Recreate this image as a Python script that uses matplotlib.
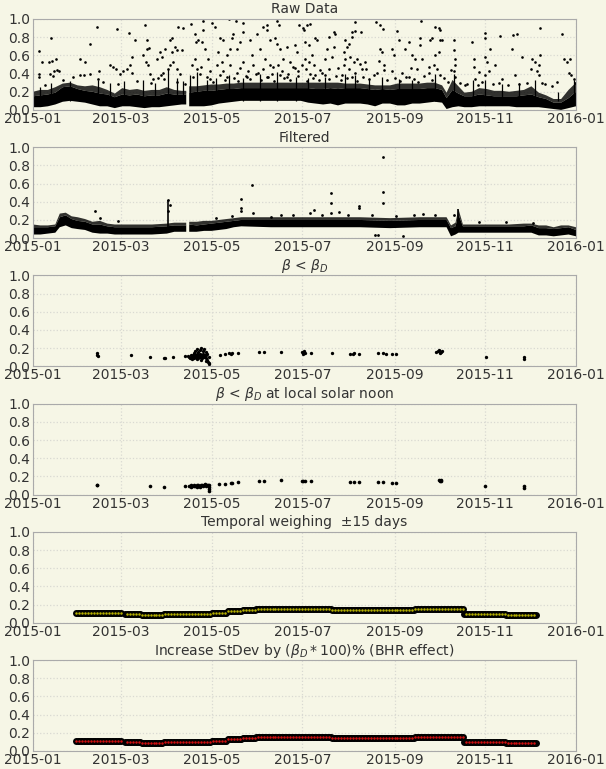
import numpy as np
import matplotlib
matplotlib.use("Agg")
import matplotlib.pyplot as plt
import matplotlib.dates as mdates

nan = np.nan

# ---- raw data: dense band (day of year, lower edge, core top, fringe top) ----
raw_band_day = [0, 5, 10, 15, 20, 25, 30, 35, 40, 45, 50, 55, 60, 65, 70, 75, 80, 85,
                90, 95, 100, 103, 104, 105, 110, 115, 120, 125, 130, 135, 140, 150, 160,
                170, 180, 185, 190, 195, 200, 205, 210, 215, 220, 225, 230, 235, 240,
                245, 250, 255, 260, 265, 270, 275, 278, 282, 286, 290, 295, 300, 305,
                310, 315, 320, 325, 330, 335, 340, 345, 350, 355, 360, 365]
raw_band_lo = [0.03, 0.03, 0.04, 0.06, 0.09, 0.10, 0.09, 0.08, 0.06, 0.04, 0.04, 0.02,
               0.04, 0.04, 0.03, 0.02, 0.03, 0.03, 0.04, 0.05, 0.06, 0.06, nan, 0.04,
               0.04, 0.04, 0.05, 0.07, 0.08, 0.09, 0.10, 0.10, 0.10, 0.10, 0.10, 0.08,
               0.07, 0.06, 0.07, 0.05, 0.07, 0.07, 0.07, 0.06, 0.04, 0.07, 0.07, 0.05,
               0.05, 0.07, 0.07, 0.08, 0.09, 0.08, 0.01, 0.03, 0.04, 0.03, 0.03, 0.04,
               0.04, 0.04, 0.04, 0.04, 0.03, 0.03, 0.03, 0.03, 0.02, 0.01, 0.00, 0.02,
               0.04]
raw_band_core = [0.15, 0.16, 0.17, 0.19, 0.25, 0.26, 0.23, 0.21, 0.20, 0.18, 0.17, 0.14,
                 0.17, 0.16, 0.17, 0.15, 0.16, 0.16, 0.18, 0.17, 0.17, 0.17, nan, 0.19,
                 0.20, 0.21, 0.21, 0.22, 0.23, 0.23, 0.24, 0.24, 0.24, 0.24, 0.24, 0.24,
                 0.23, 0.23, 0.24, 0.23, 0.24, 0.24, 0.24, 0.23, 0.22, 0.23, 0.22, 0.23,
                 0.23, 0.23, 0.23, 0.24, 0.24, 0.22, 0.13, 0.22, 0.18, 0.15, 0.15, 0.17,
                 0.16, 0.15, 0.15, 0.15, 0.15, 0.16, 0.17, 0.14, 0.12, 0.08, 0.08, 0.13,
                 0.20]
raw_band_hi = [0.20, 0.22, 0.22, 0.25, 0.29, 0.30, 0.27, 0.26, 0.27, 0.25, 0.22, 0.18,
               0.24, 0.22, 0.23, 0.21, 0.22, 0.22, 0.25, 0.22, 0.21, 0.21, nan, 0.26,
               0.26, 0.27, 0.28, 0.28, 0.29, 0.29, 0.30, 0.30, 0.30, 0.30, 0.30, 0.30,
               0.30, 0.30, 0.30, 0.30, 0.29, 0.29, 0.29, 0.28, 0.27, 0.27, 0.27, 0.29,
               0.29, 0.29, 0.29, 0.30, 0.30, 0.27, 0.19, 0.33, 0.26, 0.19, 0.20, 0.24,
               0.23, 0.21, 0.21, 0.20, 0.21, 0.22, 0.26, 0.19, 0.16, 0.12, 0.12, 0.22,
               0.30]

# ---- raw data: scattered points above the band ----
raw_pt_day = [4.3, 5.8, 4.3, 4.3, 11.9, 11.0, 12.5, 11.4, 13.2, 15.5, 14.1, 15.9, 17.7,
              31.6, 34.9, 31.6, 34.3, 38.3, 38.3, 43.2, 44.6, 43.9, 56.7, 51.7, 53.5,
              55.8, 58.5, 60.7, 62.9, 65.2, 66.3, 64.7, 68.5, 66.3, 75.3, 76.4, 76.8,
              78.2, 74.1, 75.9, 77.5, 78.6, 80.9, 83.1, 85.3, 86.5, 88.7, 85.8, 87.1,
              88.0, 92.1, 93.2, 95.4, 93.2, 96.5, 99.9, 97.7, 100.6, 92.1, 94.3, 96.5,
              98.8, 90.5, 106.0, 108.9, 111.1, 109.5, 113.3, 114.5, 114.0, 120.1,
              108.9, 110.0, 107.7, 115.6, 117.8, 106.6, 112.2, 122.3, 125.7, 127.9,
              124.5, 126.8, 130.1, 131.9, 133.5, 134.6, 132.4, 136.4, 136.9, 139.1,
              141.3, 141.3, 145.8, 146.9, 150.3, 152.5, 154.8, 157.0, 157.5, 159.3,
              162.6, 163.7, 165.5, 163.7, 166.0, 170.5, 172.7, 176.1, 177.2, 179.0,
              181.7, 123.4, 127.9, 132.4, 136.9, 141.3, 144.7, 148.1, 151.4, 154.8,
              155.9, 159.3, 160.4, 164.9, 167.1, 168.2, 171.6, 175.0, 178.3, 180.5,
              118.9, 116.7, 130.1, 143.6, 157.0, 170.5,
              181.9, 184.2, 186.4, 182.6, 185.3, 189.8, 190.9, 183.0, 185.3, 188.6,
              187.5, 183.5, 186.4, 189.8, 198.7, 202.1, 203.2, 202.1, 197.6, 201.0,
              196.5, 198.7, 194.2, 209.9, 212.2, 211.0, 208.8, 214.4, 216.6, 214.4,
              216.2, 220.7, 209.9, 213.3, 215.5, 217.8, 220.0, 223.4, 208.8, 212.2,
              216.6, 221.1, 207.7, 214.4, 230.5, 233.4, 235.0, 233.4, 234.6, 232.3,
              235.7, 231.2, 241.3, 242.4, 241.3, 244.6, 245.8, 250.2, 252.5, 254.7,
              257.0, 260.3, 260.3, 261.0, 261.4, 258.1, 248.0, 252.5, 267.0, 268.2,
              270.0, 272.6, 273.8, 273.8, 274.9, 272.6, 270.4, 269.3, 271.5, 273.8,
              265.9, 282.7, 282.7, 283.4, 283.8, 282.7, 283.8, 290.6, 295.0, 296.2,
              296.2, 297.3, 303.6, 304.0, 304.0, 305.1, 306.2, 303.6, 307.4, 310.7,
              313.0, 314.1, 322.4, 325.3, 321.9, 328.6, 335.4, 337.6, 339.8, 341.0,
              341.0, 338.7, 339.8, 342.1, 355.5, 356.6, 358.9, 360.0, 361.1, 361.8,
              363.4, 364.0, 324.2, 315.2,
              8, 20, 27, 47, 57, 70, 79, 84, 97, 102, 119, 121, 126, 129, 135, 138,
              143, 146, 150, 153, 158, 162, 166, 169, 173, 178, 184, 188, 192, 196,
              199, 204, 207, 211, 218, 222, 226, 229, 238, 243, 247, 251, 256, 259,
              263, 268, 276, 279, 287, 292, 299, 302, 309, 319, 327, 332, 344, 349,
              352, 113, 139, 161, 176, 193, 205, 224, 236, 254, 266, 281, 300, 335]
raw_pt_val = [0.65, 0.53, 0.40, 0.36, 0.79, 0.53, 0.54, 0.40, 0.37, 0.56, 0.43, 0.44, 0.43,
              0.56, 0.53, 0.38, 0.38, 0.73, 0.40, 0.91, 0.43, 0.34, 0.89, 0.49, 0.47,
              0.45, 0.40, 0.43, 0.45, 0.49, 0.41, 0.85, 0.77, 0.58, 0.93, 0.77, 0.67,
              0.68, 0.60, 0.53, 0.49, 0.40, 0.34, 0.56, 0.64, 0.58, 0.67, 0.38, 0.41,
              0.34, 0.77, 0.79, 0.69, 0.64, 0.66, 0.66, 0.91, 0.90, 0.49, 0.53, 0.45,
              0.40, 0.45, 0.95, 0.84, 0.77, 0.75, 0.75, 0.98, 0.88, 0.96,
              0.56, 0.45, 0.36, 0.67, 0.56, 0.49, 0.40, 0.91, 0.79, 0.77,
              0.64, 0.53, 0.60, 1.00, 0.79, 0.84, 0.67, 0.98, 0.67, 0.75,
              0.96, 0.86, 0.77, 0.60, 0.84, 0.67, 0.91, 0.88, 0.93, 0.77,
              0.79, 0.98, 0.93, 0.73, 0.67, 0.69, 0.53, 0.71, 0.64, 0.93,
              0.90, 0.49, 0.43, 0.49, 0.41, 0.53, 0.43, 0.49, 0.41, 0.45,
              0.56, 0.49, 0.40, 0.49, 0.43, 0.56, 0.40, 0.47, 0.43, 0.49,
              0.43, 0.36, 0.36, 0.36, 0.36, 0.36,
              0.88, 0.93, 0.94, 0.75, 0.71, 0.79, 0.77, 0.56, 0.53, 0.49,
              0.60, 0.45, 0.40, 0.38, 0.80, 0.86, 0.84, 0.69, 0.67, 0.58,
              0.56, 0.45, 0.41, 0.77, 0.73, 0.69, 0.64, 0.80, 0.97, 0.86,
              0.87, 0.86, 0.56, 0.58, 0.53, 0.56, 0.51, 0.53, 0.49, 0.45,
              0.41, 0.45, 0.38, 0.36, 0.97, 0.93, 0.89, 0.67, 0.64, 0.54,
              0.49, 0.41, 0.67, 0.60, 0.43, 0.87, 0.77, 0.67, 0.75, 0.60,
              0.56, 0.71, 0.79, 0.98, 0.56, 0.45, 0.41, 0.36, 0.77, 0.79,
              0.91, 0.90, 0.88, 0.77, 0.77, 0.64, 0.60, 0.49, 0.45, 0.38,
              0.41, 0.77, 0.66, 0.56, 0.49, 0.43, 0.36, 0.27, 0.75, 0.56,
              0.47, 0.34, 0.85, 0.79, 0.58, 0.53, 0.43, 0.38, 0.67, 0.49,
              0.30, 0.81, 0.82, 0.84, 0.67, 0.58, 0.56, 0.53, 0.49, 0.90,
              0.60, 0.43, 0.38, 0.30, 0.84, 0.56, 0.53, 0.41, 0.56, 0.38,
              0.34, 0.30, 0.38, 0.34,
              0.27, 0.33, 0.36, 0.31, 0.29, 0.32, 0.30, 0.35, 0.31, 0.29, 0.34, 0.31,
              0.38, 0.33, 0.35, 0.32, 0.37, 0.34, 0.39, 0.33, 0.36, 0.32, 0.38, 0.35,
              0.33, 0.37, 0.32, 0.35, 0.33, 0.38, 0.34, 0.37, 0.33, 0.35, 0.32, 0.36,
              0.34, 0.38, 0.33, 0.35, 0.32, 0.36, 0.34, 0.31, 0.37, 0.33, 0.35, 0.31,
              0.30, 0.28, 0.27, 0.31, 0.29, 0.27, 0.28, 0.30, 0.28, 0.26, 0.31, 0.47,
              0.46, 0.47, 0.46, 0.44, 0.46, 0.45, 0.44, 0.46, 0.47, 0.44, 0.42, 0.45]

# vertical streaks rising out of the raw band
raw_spike_day = [4.7, 12, 25, 44, 52, 61, 74, 82, 90.5, 96.5, 101, 105.5, 110, 116.7,
                 123, 132, 141, 152.5, 163.7, 177, 185, 196.5, 210, 216.6, 225.6, 234.6,
                 245.8, 254.7, 270.4, 283, 296, 304, 315, 326.4, 337.6, 353, 363.4]
raw_spike_top = [0.25, 0.30, 0.32, 0.33, 0.30, 0.32, 0.33, 0.30, 0.45, 0.35, 0.32, 0.38,
                 0.42, 0.33, 0.35, 0.38, 0.35, 0.40, 0.42, 0.36, 0.35, 0.36, 0.40, 0.38,
                 0.34, 0.36, 0.34, 0.33, 0.40, 0.40, 0.33, 0.33, 0.28, 0.30, 0.33, 0.20,
                 0.33]

# ---- filtered data ----
filt_band_day = [0, 5, 10, 15, 18, 22, 26, 30, 35, 40, 45, 50, 55, 60, 70, 80, 90, 95,
                 100, 103, 104, 105, 110, 115, 120, 125, 130, 135, 140, 160, 180, 200,
                 220, 240, 260, 275, 278, 281, 284, 286, 289, 295, 310, 320, 330, 335,
                 340, 345, 350, 355, 360, 365]
filt_band_lo = [0.04, 0.04, 0.05, 0.06, 0.12, 0.14, 0.11, 0.10, 0.09, 0.06, 0.05, 0.05,
                0.04, 0.04, 0.04, 0.04, 0.05, 0.07, 0.07, 0.07, nan, 0.07, 0.07, 0.08,
                0.08, 0.09, 0.10, 0.12, 0.13, 0.12, 0.12, 0.12, 0.12, 0.11, 0.12, 0.12,
                0.12, 0.02, 0.04, 0.06, 0.06, 0.06, 0.06, 0.06, 0.06, 0.06, 0.03, 0.03,
                0.02, 0.03, 0.04, 0.02]
filt_band_core = [0.12, 0.12, 0.12, 0.13, 0.23, 0.25, 0.21, 0.19, 0.18, 0.15, 0.15, 0.13,
                  0.12, 0.12, 0.12, 0.12, 0.13, 0.14, 0.14, 0.14, nan, 0.15, 0.14, 0.15,
                  0.16, 0.17, 0.18, 0.19, 0.20, 0.20, 0.20, 0.20, 0.20, 0.19, 0.20, 0.20,
                  0.20, 0.11, 0.13, 0.26, 0.13, 0.13, 0.13, 0.13, 0.13, 0.14, 0.11, 0.11,
                  0.10, 0.11, 0.12, 0.09]
filt_band_hi = [0.15, 0.14, 0.14, 0.15, 0.27, 0.28, 0.24, 0.23, 0.21, 0.18, 0.19, 0.16,
                0.15, 0.15, 0.15, 0.15, 0.16, 0.17, 0.17, 0.17, nan, 0.18, 0.18, 0.19,
                0.19, 0.20, 0.21, 0.22, 0.23, 0.23, 0.23, 0.23, 0.23, 0.22, 0.23, 0.23,
                0.23, 0.14, 0.17, 0.32, 0.15, 0.15, 0.15, 0.15, 0.16, 0.16, 0.14, 0.14,
                0.12, 0.14, 0.14, 0.12]

filt_pt_day = [140, 140, 140, 147, 148, 200, 200, 200, 206, 219, 219, 235, 235, 235,
               189, 186, 42, 262, 249, 230, 232, 160, 175, 92, 91, 90.5, 45, 57, 123,
               134, 167, 194, 212, 228, 244, 256, 270, 283, 300, 318, 336]
filt_pt_val = [0.43, 0.33, 0.30, 0.58, 0.28, 0.50, 0.39, 0.28, 0.29, 0.35, 0.33, 0.89,
               0.51, 0.39, 0.31, 0.28, 0.30, 0.27, 0.02, 0.03, 0.03, 0.23, 0.26, 0.36,
               0.42, 0.30, 0.22, 0.19, 0.22, 0.24, 0.26, 0.25, 0.26, 0.25, 0.24, 0.25,
               0.26, 0.25, 0.18, 0.18, 0.17]
filt_spike_day = [91, 286]
filt_spike_top = [0.42, 0.32]

# ---- beta < beta_D ----
beta_day = [43.3, 43.3, 43.5, 66, 78.6, 88, 89, 94, 102,
            105, 105.5, 106, 106.5, 107, 107.5, 108, 108, 108.5, 109, 109, 109.5, 110,
            110, 110.5, 111, 111, 111.5, 112, 112, 112.5, 113, 113, 113.5, 114, 114,
            114.5, 115, 115, 115.5, 116, 116, 116.5, 117, 117, 117.5, 118, 118, 118.5,
            104.5, 107, 110, 113, 116,
            125.4, 129, 132, 133, 134, 138, 152, 155, 167, 181, 181.5, 182, 183, 187,
            201, 213, 215, 216, 219, 232, 235, 237, 241, 244, 271, 272, 273, 273.5,
            274, 275, 304.6, 329.8, 329.8]
beta_val = [0.15, 0.13, 0.11, 0.12, 0.10, 0.09, 0.09, 0.10, 0.11,
            0.10, 0.09, 0.12, 0.09, 0.11, 0.13, 0.10, 0.15, 0.09, 0.12, 0.17, 0.10, 0.14,
            0.19, 0.11, 0.09, 0.16, 0.13, 0.18, 0.10, 0.14, 0.20, 0.12, 0.09, 0.17, 0.11,
            0.14, 0.19, 0.10, 0.13, 0.16, 0.09, 0.12, 0.07, 0.14, 0.05, 0.04, 0.10, 0.03,
            0.11, 0.08, 0.08, 0.07, 0.06,
            0.13, 0.135, 0.15, 0.14, 0.15, 0.15, 0.155, 0.155, 0.16, 0.16, 0.14, 0.165,
            0.15, 0.15, 0.15, 0.14, 0.14, 0.145, 0.14, 0.145, 0.145, 0.14, 0.14, 0.14,
            0.16, 0.17, 0.18, 0.15, 0.16, 0.17, 0.10, 0.08, 0.10]

# ---- beta < beta_D at local solar noon ----
noon_day = [43, 43.3, 78.6, 88, 102,
            105, 106, 107, 108, 109, 110, 110.5, 111, 112, 113, 113.5, 114, 115, 115.5,
            116, 117, 117.5, 118, 118, 118.3, 118.5, 106.5, 108.5, 112.5,
            125, 129, 133, 134, 138, 152, 155, 167, 181, 181.5, 183, 187, 213, 216,
            219, 232, 235, 241, 244, 273, 273.5, 274, 274.5, 304, 330, 330]
noon_val = [0.105, 0.11, 0.095, 0.08, 0.095,
            0.09, 0.10, 0.09, 0.10, 0.09, 0.10, 0.085, 0.105, 0.09, 0.10, 0.11, 0.09,
            0.10, 0.115, 0.09, 0.10, 0.11, 0.08, 0.06, 0.04, 0.10, 0.085, 0.095, 0.085,
            0.115, 0.12, 0.13, 0.13, 0.14, 0.15, 0.15, 0.155, 0.145, 0.15, 0.145, 0.145,
            0.135, 0.135, 0.135, 0.135, 0.135, 0.13, 0.13, 0.155, 0.15, 0.155, 0.15,
            0.09, 0.07, 0.09]

# ---- daily weighted prior: piecewise-constant levels (first day, last day, value) ----
prior_start = [29, 62, 73, 88, 104, 120, 131, 141, 150, 167, 201, 257, 290, 318]
prior_end = [59, 72, 87, 103, 119, 130, 140, 149, 166, 200, 256, 289, 317, 338]
prior_level = [0.11, 0.10, 0.09, 0.10, 0.10, 0.105, 0.13, 0.14, 0.155, 0.15, 0.14, 0.155,
               0.10, 0.09]

BG = "#f6f6e6"
START = np.datetime64("2015-01-01T00:00")


def as_dates(days):
    return START + (np.asarray(days, dtype=float) * 1440).astype("timedelta64[m]")


def style_axis(ax, title):
    ax.set_facecolor(BG)
    ax.set_xlim(START, np.datetime64("2016-01-01T00:00"))
    ax.set_ylim(0, 1)
    ax.set_yticks(np.arange(0, 1.01, 0.2))
    ax.xaxis.set_major_locator(mdates.MonthLocator(bymonth=[1, 3, 5, 7, 9, 11]))
    ax.xaxis.set_major_formatter(mdates.DateFormatter("%Y-%m"))
    ax.grid(True, color="#d9d9d2", ls=":", lw=0.9)
    ax.set_axisbelow(True)
    ax.tick_params(labelsize=10, length=0, labelcolor="#333333")
    ax.tick_params(axis="x", pad=1.5)
    ax.tick_params(axis="y", pad=2)
    for sp in ax.spines.values():
        sp.set_color("#aaaaaa")
    ax.set_title(title, fontsize=10, color="#333333", pad=4)


def draw_band(ax, day, lo, core, hi, spike_day, spike_top, lw):
    x = as_dates(day)
    ax.fill_between(x, core, hi, color="k", alpha=0.8, lw=0)
    ax.fill_between(x, lo, core, color="k", lw=0)
    ax.vlines(as_dates(spike_day), 0.1, spike_top, color="k", lw=lw)


def daily_prior():
    days, vals = [], []
    for s, e, v in zip(prior_start, prior_end, prior_level):
        d = list(range(s, e + 1))
        days += d
        vals += [v] * len(d)
    return as_dates(days), np.array(vals)


fig = plt.figure(figsize=(6.06, 7.69), dpi=100, facecolor=BG)
axes = fig.subplots(6, 1)
fig.subplots_adjust(left=33 / 606, right=576 / 606, top=1 - 19 / 769, bottom=18 / 769,
                    hspace=0.41)

# raw
ax = axes[0]
style_axis(ax, "Raw Data")
draw_band(ax, raw_band_day, raw_band_lo, raw_band_core, raw_band_hi,
          raw_spike_day, raw_spike_top, 0.9)
ax.plot(as_dates(raw_pt_day), raw_pt_val, "o", color="k", ms=1.9, mew=0)

# filtered
ax = axes[1]
style_axis(ax, "Filtered")
draw_band(ax, filt_band_day, filt_band_lo, filt_band_core, filt_band_hi,
          filt_spike_day, filt_spike_top, 1.2)
ax.plot(as_dates(filt_pt_day), filt_pt_val, "o", color="k", ms=2, mew=0)

# beta < beta_D
ax = axes[2]
style_axis(ax, r"$\beta$ < $\beta_D$")
ax.plot(as_dates(beta_day), beta_val, "o", color="k", ms=2.4, mew=0)

ax = axes[3]
style_axis(ax, r"$\beta$ < $\beta_D$ at local solar noon")
ax.plot(as_dates(noon_day), noon_val, "o", color="k", ms=2.6, mew=0)

# temporal weighting and BHR-inflated versions
px, py = daily_prior()
for ax, title, face in [(axes[4], "Temporal weighing  \u00b115 days", "#b5b000"),
                        (axes[5], r"Increase StDev by ($\beta_D * 100$)% (BHR effect)",
                         "#d01010")]:
    style_axis(ax, title)
    ax.plot(px, py, "o", color="k", ms=5, mew=0)
    ax.plot(px[::2], py[::2], "o", color=face, ms=1.8, mew=0)

fig.savefig("out.png", dpi=100, facecolor=BG)
